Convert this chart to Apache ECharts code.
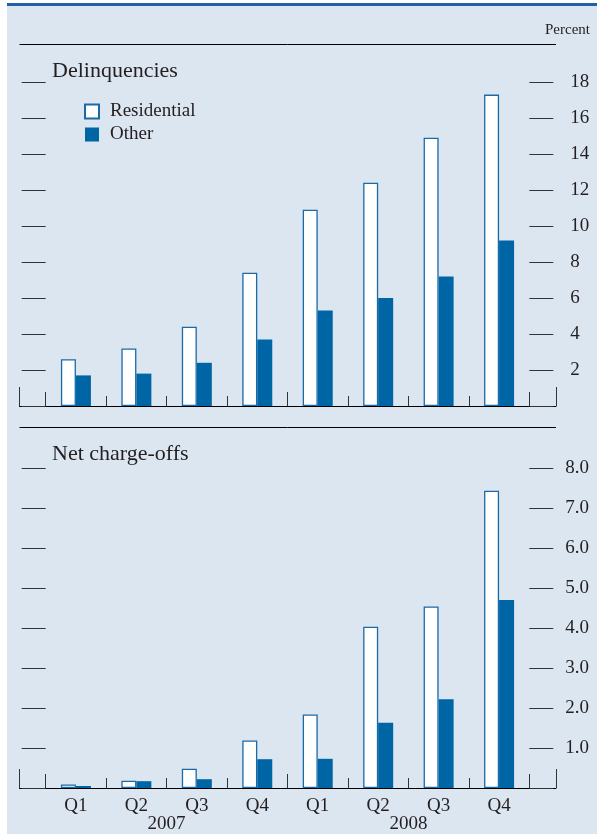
<!DOCTYPE html>
<html>
<head>
<meta charset="utf-8">
<script src="https://cdn.jsdelivr.net/npm/echarts@6/dist/echarts.min.js"></script>
<style>html,body{margin:0;padding:0;background:#fff}#c{width:597px;height:834px}</style>
</head>
<body>
<div id="c"></div>
<script>
const quarters = ['Q1','Q2','Q3','Q4','Q1','Q2','Q3','Q4'];
const years = ['2007','2008'];
const delinqResidential = [2.6, 3.2, 4.4, 7.4, 10.9, 12.4, 14.9, 17.3];
const delinqOther = [1.7, 1.8, 2.4, 3.7, 5.3, 6.0, 7.2, 9.2];
const chargeResidential = [0.09, 0.18, 0.48, 1.19, 1.84, 4.03, 4.54, 7.43];
const chargeOther = [0.05, 0.17, 0.22, 0.72, 0.73, 1.63, 2.22, 4.7];
const delinqTicks = {min: 0, max: 18, interval: 2};
const chargeTicks = {min: 0, max: 8, interval: 1};

const FONT = 'Liberation Serif';
const TXT = '#231f20';
const BLUE = '#0065a4';
const EDGE = '#1a6aa8';
const BG = '#dce6f1';

const chart = echarts.init(document.getElementById('c'), null, {renderer: 'canvas'});

const gTop = {left: 45.7, right: 67.7, top: 82, bottom: 428};
const gBot = {left: 45.7, right: 67.7, top: 468, bottom: 46};
const extTop = {left: 19.5, right: 41, top: 82, bottom: 428};
const extBot = {left: 19.5, right: 41, top: 468, bottom: 46};

function catAxis(grid, data, tickLen, showLine, labels, margin) {
  return {
    type: 'category', gridIndex: grid, data: data, position: 'bottom',
    axisLine: {show: showLine, lineStyle: {color: '#000', width: 1}},
    axisTick: {show: true, inside: true, length: tickLen, lineStyle: {color: '#333', width: 1}},
    axisLabel: {show: labels, margin: margin || 8, fontFamily: FONT, fontSize: 19, color: TXT},
    splitLine: {show: false}
  };
}
function extAxis(grid) {
  return {
    type: 'value', gridIndex: grid, min: 0, max: 1, interval: 1,
    axisLine: {show: true, lineStyle: {color: '#000', width: 1}},
    axisTick: {show: true, inside: true, length: 19, lineStyle: {color: '#333', width: 1}},
    axisLabel: {show: false}, splitLine: {show: false}
  };
}
function valAxis(grid, t, pos, labels, margin, fmt) {
  return {
    type: 'value', gridIndex: grid, position: pos, min: t.min, max: t.max, interval: t.interval,
    axisLine: {show: false},
    axisTick: {show: true, inside: false, length: 24, lineStyle: {color: '#333', width: 1}},
    axisLabel: {show: labels, margin: margin, fontFamily: FONT, fontSize: 19, color: TXT,
      formatter: function (v) { return v === 0 ? '' : fmt(v); }},
    splitLine: {show: false}
  };
}

const option = {
  backgroundColor: '#fff',
  animation: false,
  graphic: [
    {type: 'rect', z: -100, shape: {x: 7, y: 5, width: 590, height: 829}, style: {fill: BG}},
    {type: 'rect', z: -99, shape: {x: 7, y: 3, width: 590, height: 3}, style: {fill: '#1f63a6'}},
    {type: 'line', z: -98, shape: {x1: 19.5, y1: 44.5, x2: 556, y2: 44.5}, style: {stroke: '#000', lineWidth: 1}},
    {type: 'line', z: -98, shape: {x1: 19.5, y1: 427.5, x2: 556, y2: 427.5}, style: {stroke: '#000', lineWidth: 1}}
  ],
  title: [
    {text: 'Percent', right: 7, top: 23, padding: 0, textStyle: {fontFamily: FONT, fontSize: 15, fontWeight: 'normal', color: TXT}},
    {text: 'Delinquencies', left: 52, top: 60, padding: 0, textStyle: {fontFamily: FONT, fontSize: 22, fontWeight: 'normal', color: TXT}},
    {text: 'Net charge-offs', left: 52, top: 443, padding: 0, textStyle: {fontFamily: FONT, fontSize: 22, fontWeight: 'normal', color: TXT}}
  ],
  legend: {
    data: ['Residential', 'Other'], orient: 'vertical', left: 84, top: 102, padding: 0,
    itemWidth: 14, itemHeight: 14, itemGap: 4, icon: 'rect',
    textStyle: {fontFamily: FONT, fontSize: 19, color: TXT, padding: [0, 0, 0, 6]}
  },
  grid: [gTop, gBot, extTop, extBot],
  xAxis: [
    catAxis(0, quarters, 10, true, false),
    catAxis(1, quarters, 10, true, true, 9),
    catAxis(0, years, 14, false, false),
    catAxis(1, years, 14, false, true, 27),
    extAxis(2),
    extAxis(3)
  ],
  yAxis: [
    valAxis(0, delinqTicks, 'left', false, 8, v => String(v)),
    valAxis(0, delinqTicks, 'right', true, 41, v => String(v)),
    valAxis(1, chargeTicks, 'left', false, 8, v => v.toFixed(1)),
    valAxis(1, chargeTicks, 'right', true, 36, v => v.toFixed(1)),
    {type: 'value', gridIndex: 2, show: false},
    {type: 'value', gridIndex: 3, show: false}
  ],
  series: [
    {name: 'Residential', type: 'bar', xAxisIndex: 0, yAxisIndex: 0, data: delinqResidential,
      barWidth: 15, barGap: '0%', itemStyle: {color: '#fff', borderColor: EDGE, borderWidth: 1.3}},
    {name: 'Other', type: 'bar', xAxisIndex: 0, yAxisIndex: 0, data: delinqOther,
      barWidth: 15, barGap: '0%', itemStyle: {color: BLUE}},
    {name: 'Residential', type: 'bar', xAxisIndex: 1, yAxisIndex: 2, data: chargeResidential,
      barWidth: 15, barGap: '0%', itemStyle: {color: '#fff', borderColor: EDGE, borderWidth: 1.3}},
    {name: 'Other', type: 'bar', xAxisIndex: 1, yAxisIndex: 2, data: chargeOther,
      barWidth: 15, barGap: '0%', itemStyle: {color: BLUE}}
  ]
};
chart.setOption(option);
</script>
</body>
</html>
